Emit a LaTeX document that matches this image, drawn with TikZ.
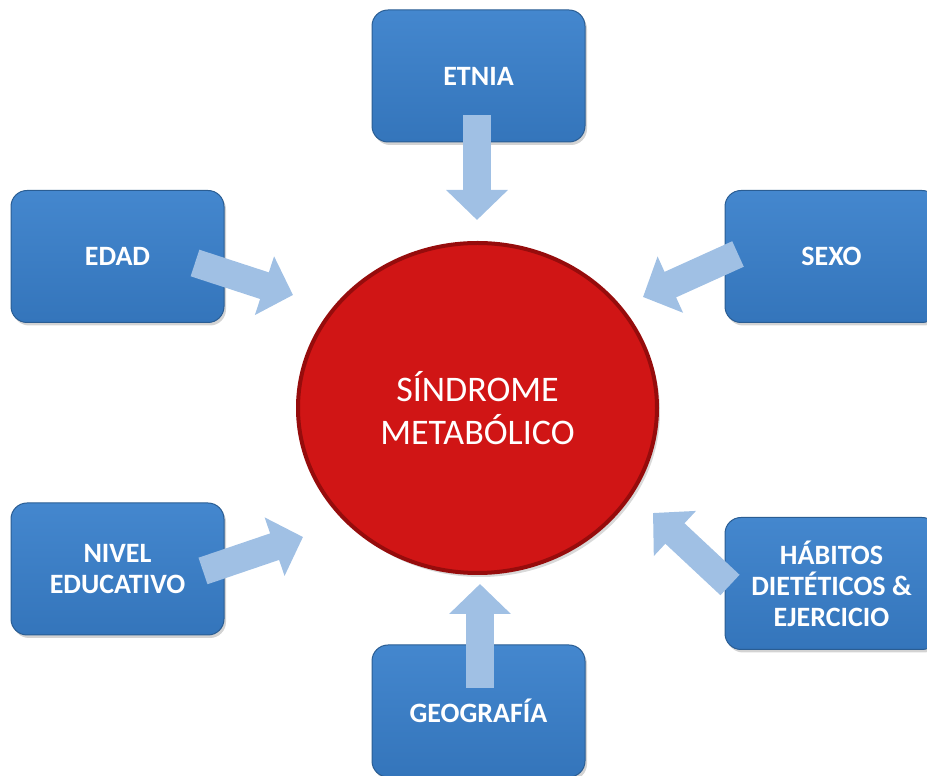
\documentclass[tikz,border=0pt]{standalone}
\usepackage{fontspec}
\setmainfont{Carlito}
\usetikzlibrary{arrows.meta,shapes.geometric,shadows,positioning}
\definecolor{boxtop}{HTML}{4487CE}
\definecolor{boxbot}{HTML}{3475BB}
\definecolor{boxedge}{HTML}{2A5D93}
\definecolor{arrblue}{HTML}{A0C0E4}
\definecolor{smred}{HTML}{D01515}
\definecolor{smrim}{HTML}{960C0C}

\begin{document}
\begin{tikzpicture}[x=1pt,y=1pt,
    factor/.style={rectangle,rounded corners=16pt,minimum width=213pt,minimum height=132pt,
      top color=boxtop,bottom color=boxbot,draw=boxedge,line width=1pt,
      drop shadow={shadow xshift=2pt,shadow yshift=-3pt,opacity=0.35},
      text=white,align=center,font=\fontsize{28}{31}\selectfont\bfseries},
    core/.style={ellipse,minimum width=359pt,minimum height=330pt,inner sep=0pt,
      fill=smred,draw=smrim,line width=4pt,
      drop shadow={shadow xshift=3pt,shadow yshift=-4pt,opacity=0.3},
      text=white,align=center,font=\fontsize{36}{43}\selectfont},
    fat/.style={draw=arrblue,line width=28pt,-{Triangle[width=60pt,length=30pt]}}]
  \useasboundingbox (0,0) rectangle (927,776);

  \node[core] (SM) at (477.5,368) {SÍNDROME\\METABÓLICO};

  \node[factor] (Et) at (478.5,700) {ETNIA};
  \node[factor] (Ed) at (117.5,519.5) {EDAD};
  \node[factor] (Sx) at (831.5,519.5) {SEXO};
  \node[factor] (Nv) at (117.5,207) {NIVEL\\EDUCATIVO};
  \node[factor] (Hb) at (831.5,192.5) {HÁBITOS\\DIETÉTICOS \&\\EJERCICIO};
  \node[factor] (Gg) at (478.5,65) {GEOGRAFÍA};

  % arrow ends
  \coordinate (Et-o) at (477,661);  \coordinate (SM-n)  at (477,556);
  \coordinate (Ed-o) at (195,513);  \coordinate (SM-nw) at (293,481);
  \coordinate (Sx-o) at (738,522);  \coordinate (SM-ne) at (643,479);
  \coordinate (Nv-o) at (203,205);  \coordinate (SM-sw) at (303,239);
  \coordinate (Hb-o) at (730,191);  \coordinate (SM-se) at (653,263);
  \coordinate (Gg-o) at (480,88);   \coordinate (SM-s)  at (480,192);

  \path (Et-o) edge[fat] (SM-n);
  \path (Ed-o) edge[fat] (SM-nw);
  \path (Sx-o) edge[fat] (SM-ne);
  \path (Nv-o) edge[fat] (SM-sw);
  \path (Hb-o) edge[fat] (SM-se);
  \path (Gg-o) edge[fat] (SM-s);
\end{tikzpicture}
\end{document}
